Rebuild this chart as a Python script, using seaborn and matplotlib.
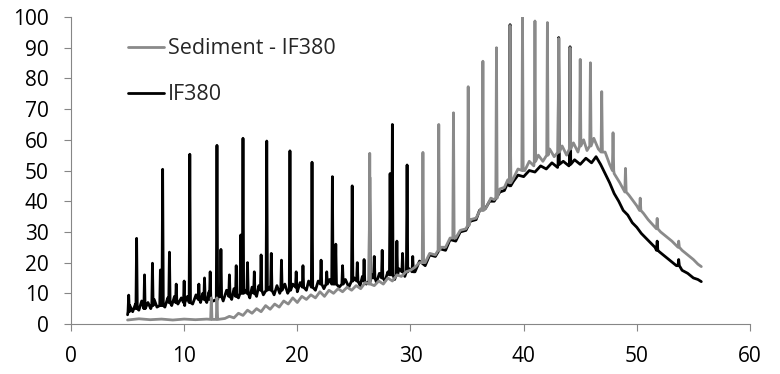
import pandas as pd
import matplotlib
matplotlib.use('Agg')
import matplotlib.pyplot as plt
import seaborn as sns

# baseline (noisy) traces
if380_x = [5.0, 5.2, 5.45, 5.7, 6.0, 6.25, 6.55, 6.8, 7.05, 7.35, 7.6, 7.85, 8.3, 8.55, 8.9,
           9.15, 9.45, 9.75, 10.05, 10.3, 10.75, 11.05, 11.45, 11.65, 12.0, 12.2, 12.6, 13.1,
           13.45, 13.75, 14.2, 14.4, 14.8, 15.4, 15.8, 16.0, 16.4, 16.6, 17.0, 17.55, 17.95,
           18.2, 18.45, 18.9, 19.15, 19.6, 20.0, 20.25, 20.8, 21.0, 21.6, 21.85, 22.35, 22.85,
           23.7, 24.25, 24.55, 25.05, 25.55, 25.75, 26.1, 26.6, 27.0, 27.25, 27.75, 28.0, 28.6,
           29.0, 29.5, 29.9, 30.4, 30.8, 31.3, 31.7, 32.2, 32.6, 33.1, 33.5, 34.0, 34.4, 34.9,
           35.3, 35.8, 36.1, 36.6, 37.0, 37.4, 37.9, 38.3, 38.6, 39.1, 39.5, 40.0, 40.5, 41.0,
           41.5, 42.0, 42.5, 43.0, 43.5, 44.0, 44.5, 45.0, 45.5, 46.0, 46.4, 46.8, 47.2, 47.6,
           48.0, 48.4, 48.8, 49.2, 49.6, 50.0, 50.4, 50.8, 51.2, 51.6, 52.0, 52.5, 53.0, 53.5,
           54.0, 54.5, 55.0, 55.4, 55.7]
if380_y = [3.0, 6.0, 4.0, 6.5, 4.5, 7.5, 5.0, 7.0, 5.0, 8.0, 5.5, 7.5, 5.5, 8.5, 6.0,
           9.0, 6.5, 8.5, 6.0, 9.0, 6.5, 9.5, 7.0, 10.0, 7.0, 10.5, 7.5, 10.0,
           7.5, 11.0, 8.0, 11.5, 8.5, 11.0, 8.5, 12.0, 9.0, 12.5, 9.5, 12.0, 9.5,
           12.5, 10.0, 13.0, 10.0, 13.0, 10.5, 13.5, 11.0, 14.0, 11.0, 14.0, 11.5, 14.5,
           12.0, 14.5, 12.0, 15.0, 12.5, 15.5, 13.0, 16.0, 13.5, 16.5, 14.0, 17.0, 14.5,
           18.0, 15.5, 18.0, 17.0, 20.5, 19.0, 22.5, 22.0, 24.5, 24.0, 27.5, 27.0, 30.0, 30.5,
           33.5, 34.0, 37.0, 37.5, 40.0, 40.0, 43.0, 43.5, 46.0, 46.5, 48.5, 48.0, 50.0, 49.5,
           51.5, 50.5, 52.5, 51.0, 53.0, 51.5, 53.5, 52.0, 54.0, 52.5, 54.5, 52.0, 49.0, 46.0,
           42.5, 40.0, 37.0, 35.5, 33.0, 31.5, 29.5, 28.0, 26.5, 25.0, 23.5, 22.0, 20.5, 19.0,
           17.5, 16.5, 15.0, 14.5, 13.8]

sed_x = [5.0, 6.0, 7.0, 8.0, 9.0, 10.0, 11.0, 12.0, 13.0, 13.6, 14.0, 14.4, 14.8, 15.2, 15.6,
         16.0, 16.4, 16.8, 17.2, 17.6, 18.0, 18.4, 18.8, 19.2, 19.6, 20.0, 20.4, 20.8, 21.2,
         21.6, 22.0, 22.4, 22.8, 23.2, 23.6, 24.0, 24.4, 24.8, 25.2, 25.6, 26.0, 26.8, 27.2,
         27.6, 28.0, 28.4, 28.8, 29.2, 29.6, 30.0, 30.4, 30.8, 31.3, 31.7, 32.2, 32.7, 33.1,
         33.5, 34.0, 34.4, 34.9, 35.3, 35.8, 36.2, 36.7, 37.1, 37.4, 37.9, 38.3, 38.6, 39.1,
         39.5, 40.1, 40.5, 40.9, 41.3, 41.7, 42.3, 42.7, 43.4, 43.8, 44.4, 44.8, 45.3, 45.6,
         46.2, 46.6, 47.2, 47.6, 48.0, 48.5, 48.8, 49.3, 49.7, 50.0, 50.6, 51.0, 51.5, 52.1,
         52.6, 53.1, 53.5, 54.0, 54.5, 55.0, 55.4, 55.7]
sed_y = [1.3, 1.7, 1.4, 1.6, 1.3, 1.6, 1.4, 1.6, 1.5, 1.8, 2.5, 2.0, 3.5, 2.8, 4.5,
         3.5, 5.0, 4.0, 6.0, 4.8, 6.5, 5.5, 7.5, 6.5, 8.5, 7.0, 9.0, 8.0, 9.5,
         8.5, 10.5, 9.0, 11.0, 10.0, 11.5, 10.5, 12.0, 11.0, 12.5, 11.5, 13.5, 12.5, 14.0,
         13.0, 15.0, 14.0, 16.0, 15.5, 17.0, 17.5, 18.5, 20.0, 20.0, 23.0, 22.5, 25.0, 25.0,
         28.0, 28.0, 30.5, 31.0, 34.0, 34.5, 37.5, 38.0, 41.0, 40.5, 44.0, 44.5, 47.0, 47.5,
         50.5, 50.0, 53.0, 51.5, 55.0, 53.0, 57.0, 54.5, 58.0, 55.0, 59.0, 56.0, 60.0, 56.5,
         60.5, 57.0, 56.0, 52.0, 49.0, 46.0, 44.0, 42.0, 40.0, 38.5, 36.0, 34.0, 32.0, 30.0,
         28.5, 27.0, 25.5, 24.0, 22.5, 21.0, 19.5, 18.7]

# peaks: retention time, apex, level at the foot
if380_peak_x = [5.1, 5.8, 6.5, 7.2, 7.9, 8.1, 8.7, 9.3, 10.0, 10.5, 11.3, 11.8, 12.3, 12.9,
                13.25, 14.0, 14.6, 15.0, 15.2, 15.6, 16.2, 16.8, 17.3, 17.7, 18.6, 19.35, 19.9,
                20.5, 21.3, 22.1, 22.6, 23.1, 23.4, 24.0, 24.85, 25.3, 25.9, 26.4, 26.8, 27.5,
                28.2, 28.4, 28.8, 29.3, 29.7, 30.2, 38.8, 43.1, 44.1, 51.8, 53.7]
if380_peak_top = [9.4, 27.9, 16, 19.8, 17.6, 50.4, 23.4, 13, 14, 55.3, 13, 15, 17, 58.2,
                  24.3, 16, 19, 29, 60.5, 20, 17, 22.5, 59.6, 23, 20.8, 56.4, 17,
                  19, 52.7, 20.8, 17, 48, 26, 19, 45, 20, 21, 47.8, 22, 24,
                  49, 65, 27, 23, 51.8, 22, 97.5, 93.3, 90.3, 27, 21]
if380_peak_foot = [4, 5, 5, 6, 6, 6, 7, 7, 7, 7, 8, 8, 8, 8,
                   9, 9, 9, 10, 10, 10, 10, 11, 11, 11, 11, 11, 12,
                   12, 12, 13, 13, 13, 13, 13, 14, 14, 14, 14, 15, 15,
                   16, 16, 16, 17, 17, 17, 45, 52, 52, 24, 19]

sed_peak_x = [12.4, 12.9, 26.4, 31.1, 32.5, 33.8, 35.1, 36.4, 37.6, 38.8, 39.9, 41.0, 42.1,
              43.1, 44.1, 45.0, 45.9, 46.9, 47.9, 49.0, 50.3, 51.8, 53.7]
sed_peak_top = [8.5, 8.5, 55.6, 55.9, 65, 68.8, 77.3, 85.6, 90, 97.2, 100, 98.7, 98.2,
                93, 90, 86.2, 85.1, 75.7, 62.3, 50.7, 41, 34.4, 27]
sed_peak_foot = [1.5, 1.5, 13, 20, 24, 28, 32, 37, 41, 46, 50, 53, 55,
                 56, 57, 58, 58, 56, 50, 43, 37, 31, 25]


def trace(bx, by, px, ptop, pfoot, w=0.06):
    xs, ys = list(bx), list(by)
    for x, top, foot in zip(px, ptop, pfoot):
        xs += [x - w, x, x + w]
        ys += [foot, top, foot]
    return pd.DataFrame({"time": xs, "signal": ys}).sort_values("time")


df_if = trace(if380_x, if380_y, if380_peak_x, if380_peak_top, if380_peak_foot)
df_sed = trace(sed_x, sed_y, sed_peak_x, sed_peak_top, sed_peak_foot)

sns.set_theme(style="ticks")
plt.rcParams['font.family'] = ['Open Sans', 'DejaVu Sans']

fig = plt.figure(figsize=(7.8, 3.74), dpi=100)
ax = fig.add_axes([0.091, 0.1337, 0.8705, 0.8208])

sns.lineplot(data=df_if, x="time", y="signal", sort=False, estimator=None,
             color="black", linewidth=2.0, ax=ax, label="IF380")
sns.lineplot(data=df_sed, x="time", y="signal", sort=False, estimator=None,
             color="#8a8a8a", linewidth=2.0, ax=ax, label="Sediment - IF380")

ax.set_xlim(0, 60)
ax.set_ylim(0, 100)
ax.set_xticks(range(0, 61, 10))
ax.set_yticks(range(0, 101, 10))
ax.set_xlabel("")
ax.set_ylabel("")
sns.despine(ax=ax)
for s in ["left", "bottom"]:
    ax.spines[s].set_color("#868686")
    ax.spines[s].set_linewidth(0.8)
ax.tick_params(axis="both", colors="#868686", labelcolor="black", labelsize=15,
               length=5, width=0.8, pad=11)

h, l = ax.get_legend_handles_labels()
ax.legend(h[::-1], l[::-1], loc="center left", bbox_to_anchor=(0.071, 0.822),
          borderaxespad=0, frameon=False, fontsize=15.5, handlelength=1.7,
          handletextpad=0.15, labelspacing=1.15)

plt.savefig("out.png", dpi=100)
plt.close()
